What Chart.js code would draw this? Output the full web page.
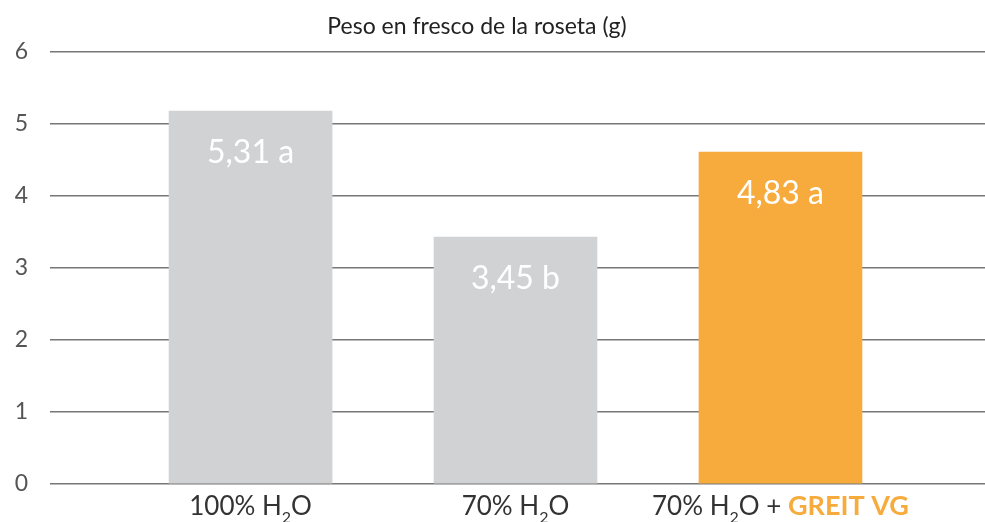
<!DOCTYPE html>
<html>
<head>
<meta charset="utf-8">
<script src="https://cdn.jsdelivr.net/npm/chart.js@4.4.0/dist/chart.umd.min.js"></script>
<style>
  html, body { margin: 0; padding: 0; background: #fff; }
  #wrap { width: 985px; height: 522px; }
</style>
</head>
<body>
<div id="wrap"><canvas id="weightChart"></canvas></div>
<script>
const chartTitle = "Peso en fresco de la roseta (g)";
const categories = ["100% H2O", "70% H2O", "70% H2O + GREIT VG"];
const weights = [5.18, 3.43, 4.61];
const valueLabels = ["5,31 a", "3,45 b", "4,83 a"];
const barColors = ["#d1d2d4", "#d1d2d4", "#f6ab3c"];
const yMin = 0;
const yMax = 6;

const FONT = "Lato, 'Noto Sans', sans-serif";

// draws "H2O" with a subscript 2 and GREIT VG in orange
function labelParts(text) {
  const parts = [];
  const brand = text.indexOf("GREIT VG");
  const plain = brand >= 0 ? text.slice(0, brand) : text;
  plain.split(/(H2O)/).forEach(p => {
    if (p === "H2O") {
      parts.push({ t: "H" }, { t: "2", sub: true }, { t: "O" });
    } else if (p) {
      parts.push({ t: p });
    }
  });
  if (brand >= 0) parts.push({ t: "GREIT VG", brand: true });
  return parts;
}

function partFont(p) {
  if (p.sub) return "16px " + FONT;
  if (p.brand) return "bold 27px " + FONT;
  return "26px " + FONT;
}

const extras = {
  id: "extras",
  afterDraw(chart) {
    const ctx = chart.ctx;
    const x = chart.scales.x;
    const y = chart.scales.y;
    ctx.save();

    // title
    ctx.font = "23px " + FONT;
    ctx.fillStyle = "#222";
    ctx.textAlign = "center";
    ctx.textBaseline = "middle";
    ctx.fillText(chartTitle, 477, 27);

    // values inside bars
    ctx.font = "32px " + FONT;
    ctx.fillStyle = "#fff";
    weights.forEach((v, i) => {
      ctx.fillText(valueLabels[i], x.getPixelForValue(i), y.getPixelForValue(v) + 42);
    });

    // category labels
    ctx.textAlign = "left";
    ctx.textBaseline = "alphabetic";
    categories.forEach((c, i) => {
      const parts = labelParts(c);
      let w = 0;
      parts.forEach(p => { ctx.font = partFont(p); w += ctx.measureText(p.t).width; });
      let cx = x.getPixelForValue(i) - w / 2;
      const base = y.getPixelForValue(0) + 31;
      parts.forEach(p => {
        ctx.font = partFont(p);
        ctx.fillStyle = p.brand ? "#f6ab3c" : "#333";
        ctx.fillText(p.t, cx, p.sub ? base + 8 : base);
        cx += ctx.measureText(p.t).width;
      });
    });
    ctx.restore();
  }
};

new Chart(document.getElementById("weightChart"), {
  type: "bar",
  data: {
    datasets: [{
      data: weights.map((v, i) => ({ x: i, y: v })),
      backgroundColor: barColors,
      barThickness: 163
    }]
  },
  options: {
    responsive: true,
    maintainAspectRatio: false,
    animation: false,
    layout: { padding: { top: 52, bottom: 38, left: 0, right: 0 } },
    plugins: {
      legend: { display: false },
      tooltip: { enabled: false }
    },
    scales: {
      x: {
        type: "linear",
        min: -0.757,
        max: 2.772,
        offset: false,
        display: false
      },
      y: {
        min: yMin,
        max: yMax,
        ticks: {
          stepSize: 1,
          padding: 22,
          color: "#555",
          font: { family: FONT, size: 23 }
        },
        afterFit(scale) { scale.width = 50; },
        border: { display: false },
        grid: { color: "#777", lineWidth: 1.5, drawTicks: false }
      }
    }
  },
  plugins: [extras]
});
</script>
</body>
</html>
